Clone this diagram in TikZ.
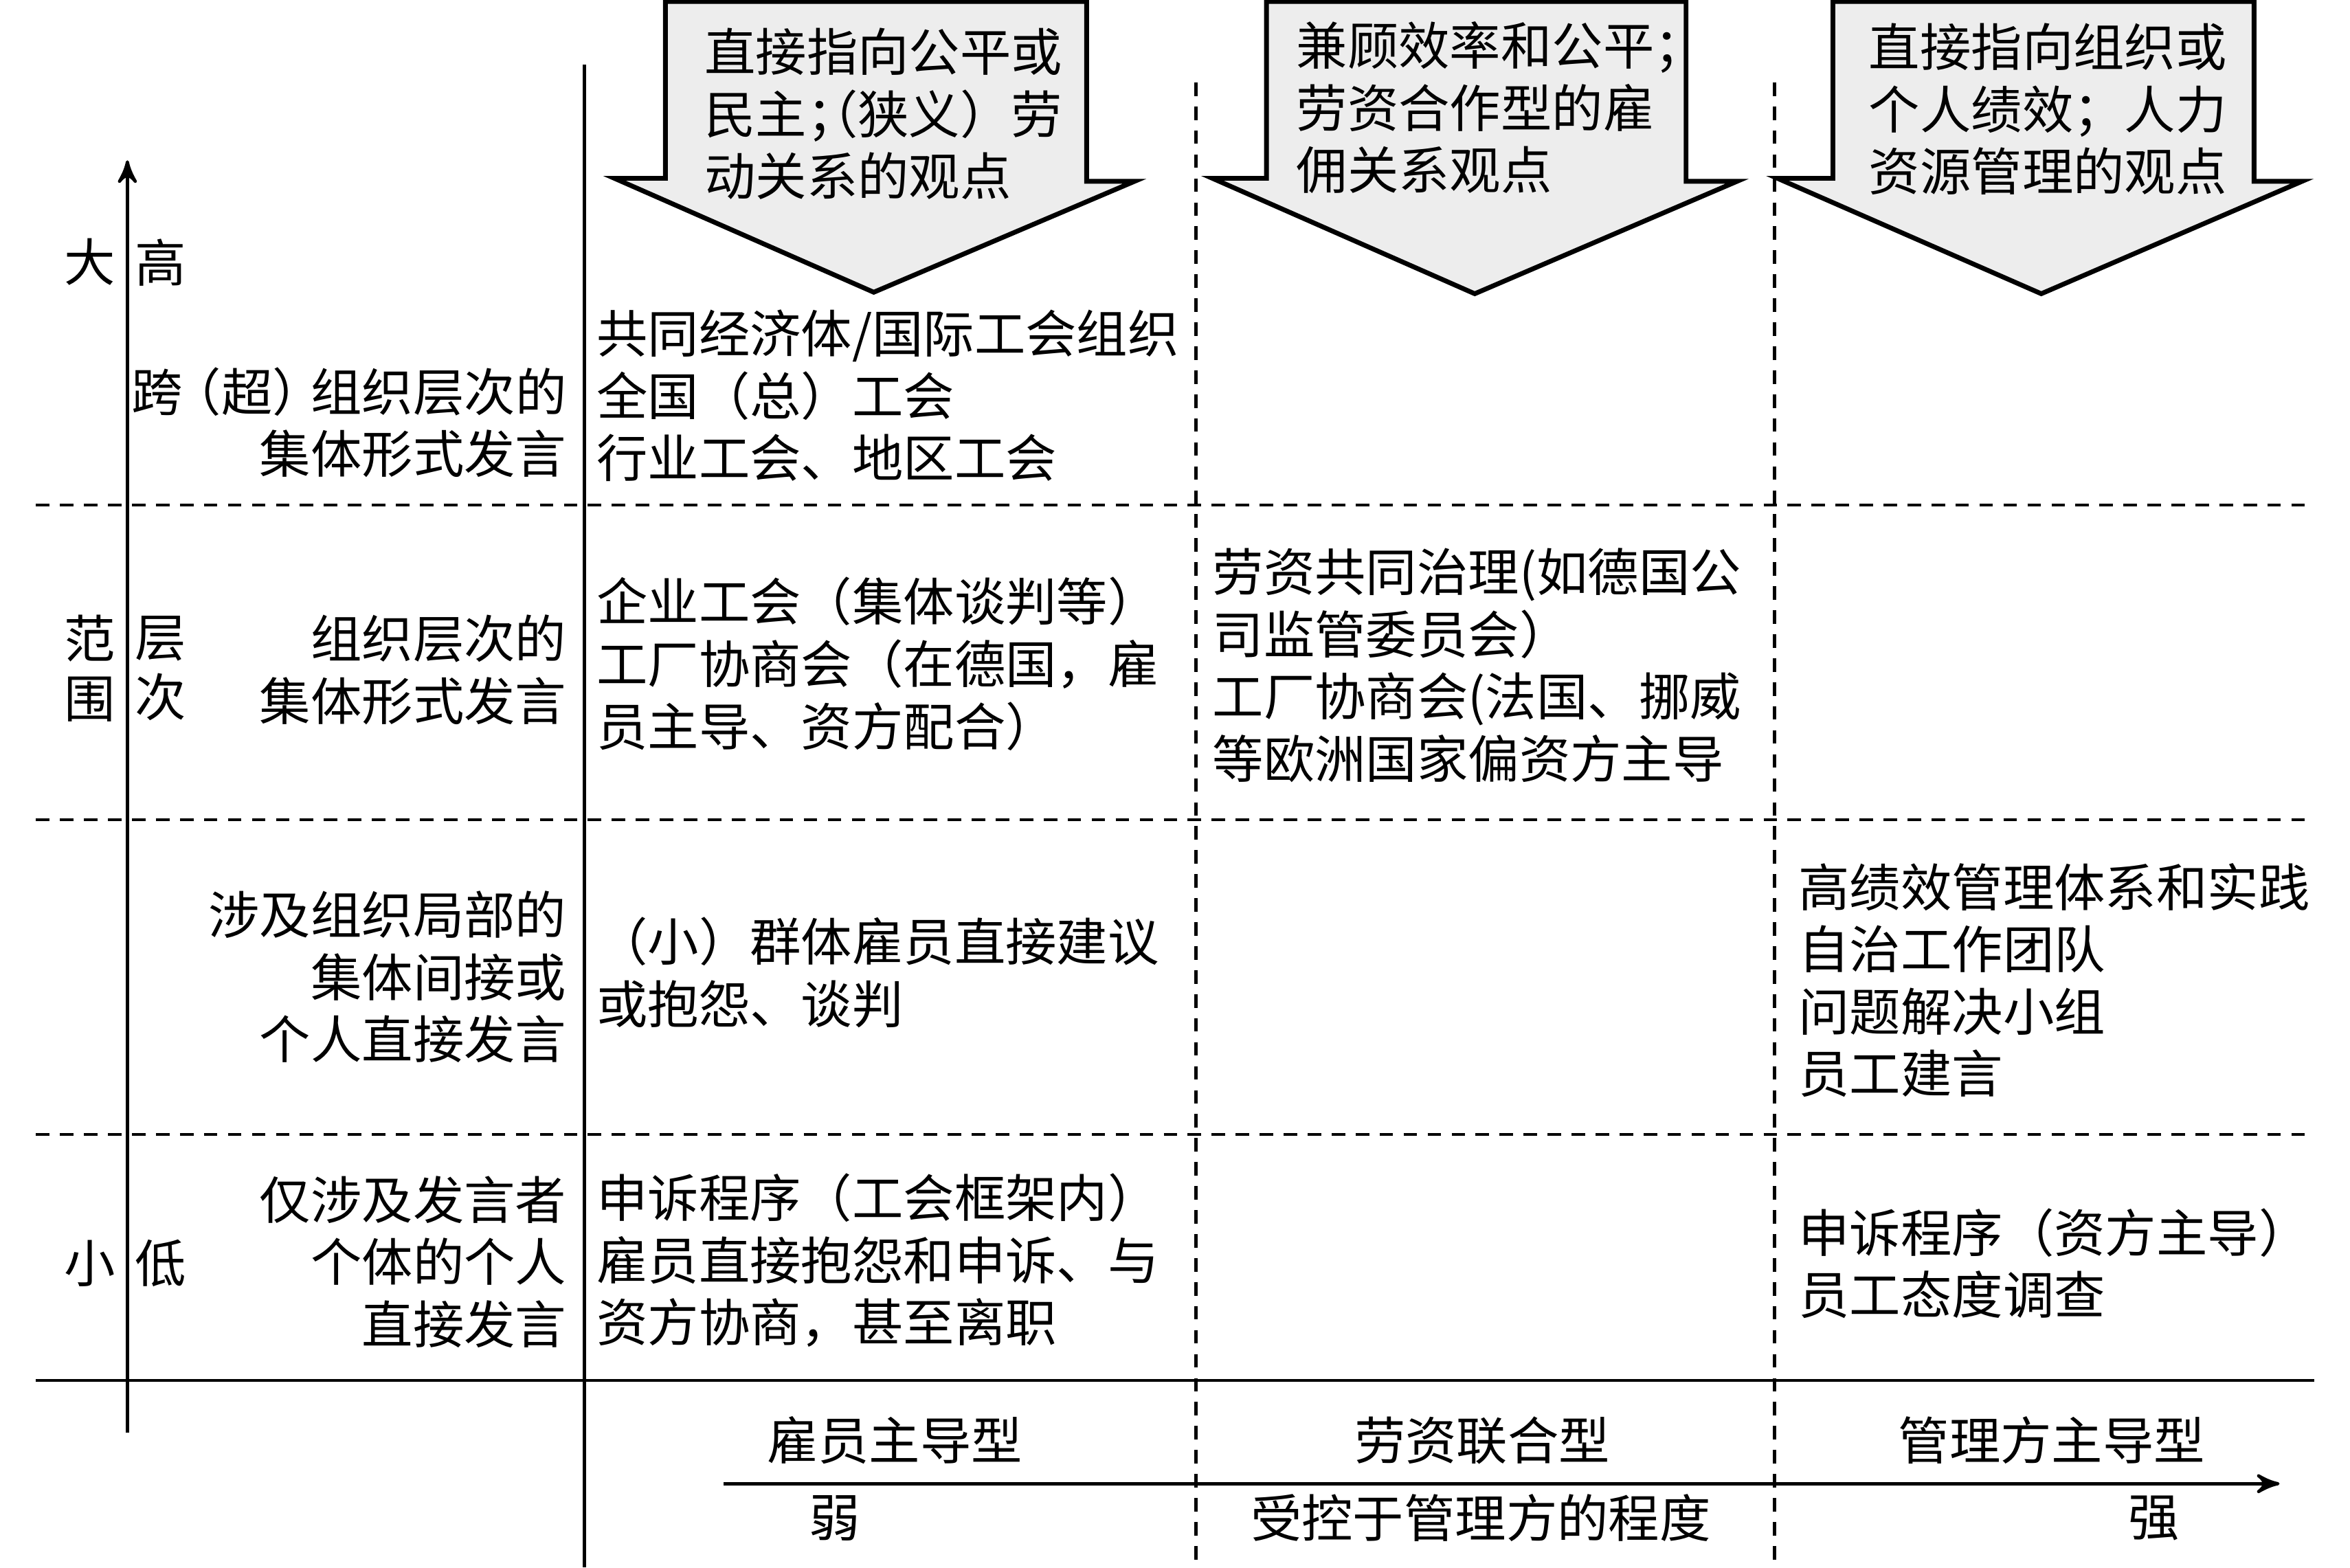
\documentclass[tikz,border=0pt]{standalone}
\usepackage{fontspec}
\setmainfont{Noto Sans CJK SC}
\usepackage{tikz}
\usetikzlibrary{arrows}

\begin{document}
\begin{tikzpicture}[x=0.01cm,y=-0.01cm,>=stealth',line width=0.6pt,
  cell node/.style={anchor=west,align=left,inner sep=0pt,font=\fontsize{9.7}{11.8}\selectfont},
  row node/.style={anchor=east,align=right,inner sep=0pt,font=\fontsize{9.7}{11.8}\selectfont},
  side node/.style={align=center,inner sep=0pt,font=\fontsize{9.7}{11.3}\selectfont},
  type node/.style={inner sep=0pt,font=\fontsize{9.7}{11.8}\selectfont},
  block arrow/.style={draw,fill=black!7,line width=0.9pt,line join=miter},
  grid line/.style={dash pattern=on 0.09cm off 0.07cm,line width=0.55pt}]

  \useasboundingbox (0,0) rectangle (1568,1046);

  % axes and grid
  \coordinate (ylow) at (85,956);
  \coordinate (yhigh) at (85,107);
  \coordinate (xlow) at (483,990);
  \coordinate (xhigh) at (1521,990);
  \draw (390,43) -- (390,1046);
  \draw (24,921) -- (1544,921);
  \draw[grid line] (24,337) -- (1544,337);
  \draw[grid line] (24,547) -- (1544,547);
  \draw[grid line] (24,757) -- (1544,757);
  \draw[grid line] (798,55) -- (798,1046);
  \draw[grid line] (1184,55) -- (1184,1046);
  \draw[->] (ylow) -- (yhigh);
  \draw[->] (xlow) -- (xhigh);

  % views
  \draw[block arrow] (444,1) -- (725,1) -- (725,121) -- (757,121) -- (583,195) -- (410,119) -- (444,119) -- cycle;
  \draw[block arrow] (845,1) -- (1125,1) -- (1125,121) -- (1159,121) -- (984,196) -- (809,119) -- (845,119) -- cycle;
  \draw[block arrow] (1223,1) -- (1504,1) -- (1504,121) -- (1536,121) -- (1362,196) -- (1186,119) -- (1223,119) -- cycle;
  \node[cell node] (view1) at (469,76) {直接指向公平或\\民主；\kern-1em（狭义）劳\\动关系的观点};
  \node[cell node] (view2) at (864,72) {兼顾效率和公平；\\劳资合作型的雇\\佣关系观点};
  \node[cell node] (view3) at (1246,73) {直接指向组织或\\个人绩效；人力\\资源管理的观点};

  % scope and level
  \node[side node] (big) at (60,175) {大};
  \node[side node] (high) at (107,175) {高};
  \node[side node] (range) at (60,446) {范\\围};
  \node[side node] (level) at (107,446) {层\\次};
  \node[side node] (small) at (60,843) {小};
  \node[side node] (low) at (107,843) {低};

  % rows
  \node[row node] (row1) at (379,282) {跨\kern-0.25em（超）\kern-0.25em组织层次的\\集体形式发言};
  \node[row node] (row2) at (379,447) {组织层次的\\集体形式发言};
  \node[row node] (row3) at (379,652) {涉及组织局部的\\集体间接或\\个人直接发言};
  \node[row node] (row4) at (379,842) {仅涉及发言者\\个体的个人\\直接发言};

  % cells
  \node[cell node] (c11) at (397,264) {共同经济体/国际工会组织\\全国（总）工会\\行业工会、地区工会};
  \node[cell node] (c21) at (397,443) {企业工会（集体谈判等）\\工厂协商会（在德国，雇\\员主导、资方配合）};
  \node[cell node] (c22) at (808,444) {劳资共同治理(如德国公\\司监管委员会）\\工厂协商会(法国、挪威\\等欧洲国家偏资方主导};
  \node[cell node] (c31) at (397,649) {（小）群体雇员直接建议\\或抱怨、谈判};
  \node[cell node] (c33) at (1199,654) {高绩效管理体系和实践\\自治工作团队\\问题解决小组\\员工建言};
  \node[cell node] (c41) at (397,841) {申诉程序（工会框架内）\\雇员直接抱怨和申诉、与\\资方协商，甚至离职};
  \node[cell node] (c43) at (1199,843) {申诉程序（资方主导）\\员工态度调查};

  % types
  \node[type node] (t1) at (597,961) {雇员主导型};
  \node[type node] (t2) at (989,961) {劳资联合型};
  \node[type node] (t3) at (1369,961) {管理方主导型};
  \node[type node] (weak) at (557,1013) {弱};
  \node[type node] (ctrl) at (988,1013) {受控于管理方的程度};
  \node[type node] (strong) at (1437,1013) {强};
\end{tikzpicture}
\end{document}
